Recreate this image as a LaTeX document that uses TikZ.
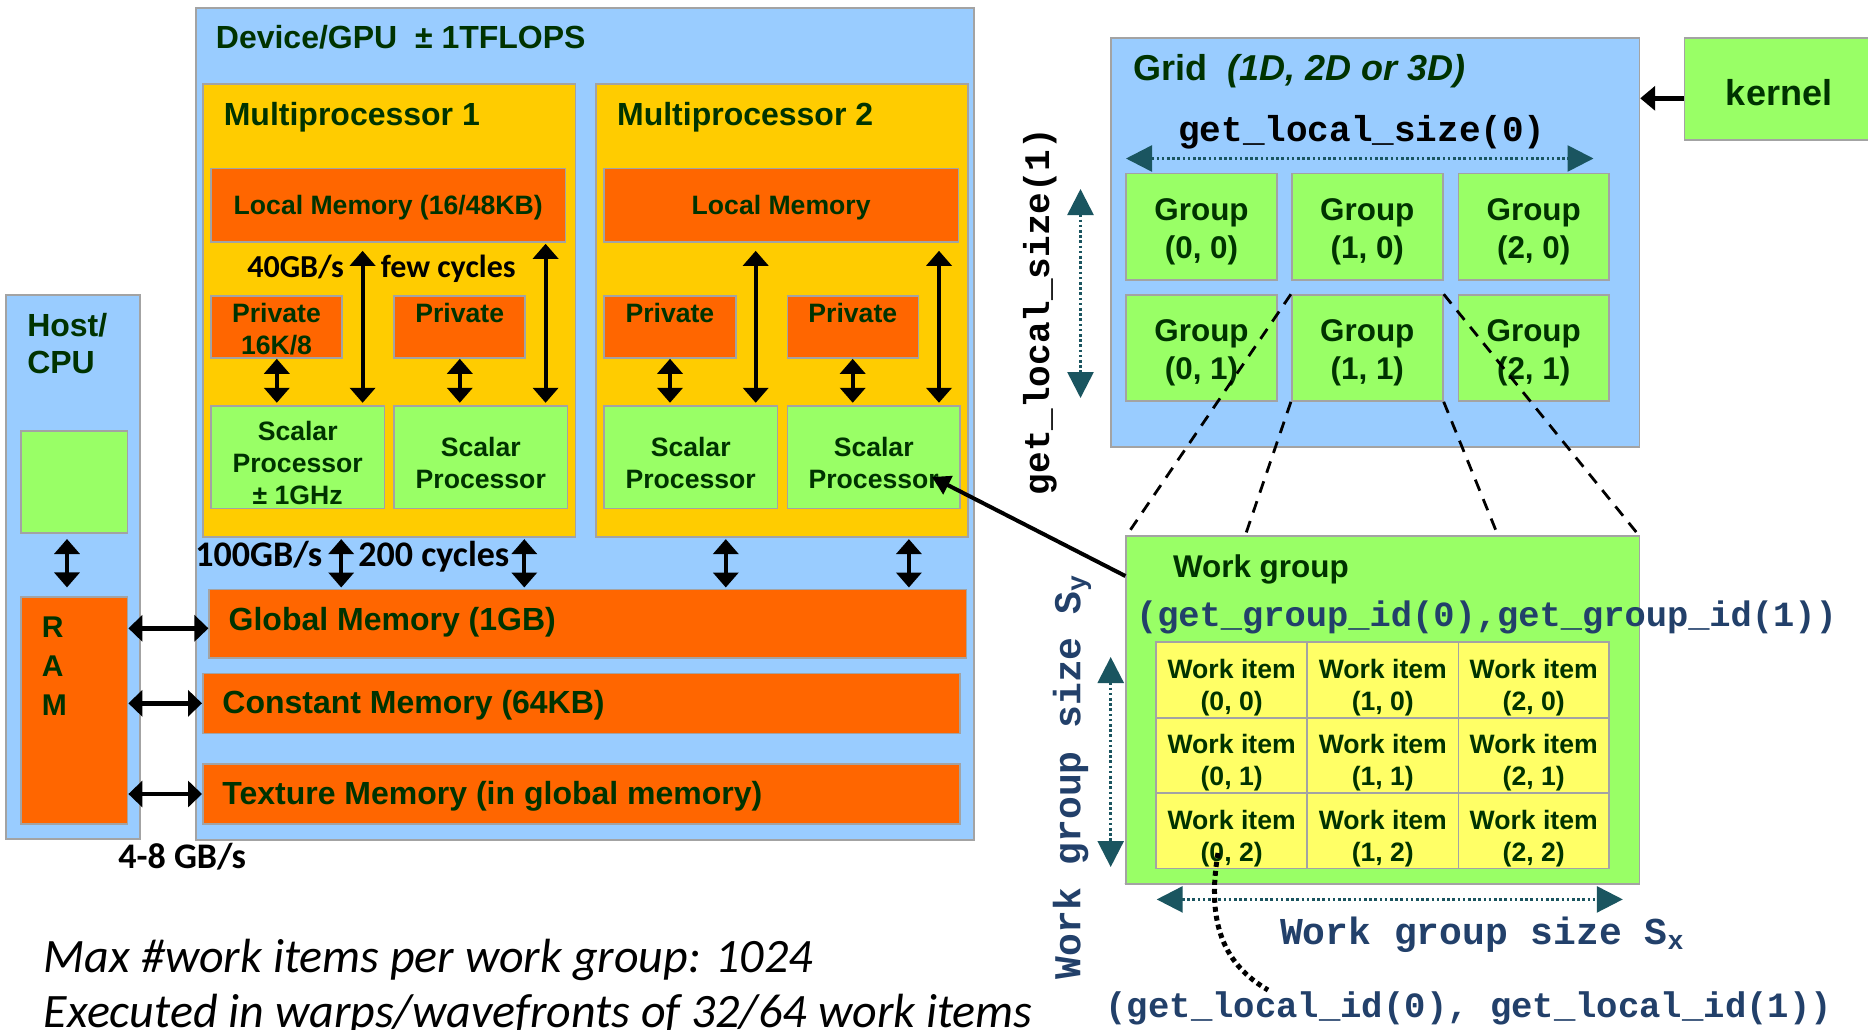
\documentclass[tikz,border=0pt]{standalone}
\usepackage{fontspec}
\setmainfont{Liberation Sans}
\setmonofont{Liberation Mono}
\newfontfamily\calib{Carlito}
\usetikzlibrary{arrows.meta,fit,calc}

\definecolor{skyblue}{HTML}{99CCFF}
\definecolor{mpyellow}{HTML}{FFCC00}
\definecolor{memorange}{HTML}{FF6600}
\definecolor{pgreen}{HTML}{99FF66}
\definecolor{wiyellow}{HTML}{FFFF66}
\definecolor{edgegray}{HTML}{A3A3A3}
\definecolor{txtgreen}{HTML}{003300}
\definecolor{labelnavy}{HTML}{22406A}
\definecolor{arrowteal}{HTML}{1A5560}

\newcommand\setfs[2]{\fontsize{#1}{#2}\selectfont}

\tikzset{
  blk/.style={draw=edgegray, line width=0.8pt, inner sep=0pt, text=txtgreen, font=\bfseries},
  bluebox/.style={blk, fill=skyblue},
  mpbox/.style={blk, fill=mpyellow},
  membox/.style={blk, fill=memorange},
  procbox/.style={blk, fill=pgreen},
  itembox/.style={blk, fill=wiyellow},
  headtxt/.style={anchor=base west, inner sep=0pt, text=txtgreen, font=\bfseries\setfs{16}{19}},
  boxtxt/.style={inner sep=0pt, text=txtgreen, font=\bfseries\setfs{13.3}{16}},
  grouptxt/.style={inner sep=0pt, text=txtgreen, align=center, font=\bfseries\setfs{15.7}{19}},
  ratetxt/.style={anchor=base west, inner sep=0pt, font=\calib\bfseries\setfs{16}{19}},
  bigrate/.style={ratetxt, font=\calib\bfseries\setfs{18}{21}},
  codetxt/.style={inner sep=0pt, font=\ttfamily\bfseries\setfs{18}{21}},
  navytxt/.style={codetxt, text=labelnavy},
  dbl/.style={line width=2pt, {Triangle[length=7.5pt,width=12.5pt]}-{Triangle[length=7.5pt,width=12.5pt]}},
  dblh/.style={line width=2.2pt, {Triangle[length=7pt,width=13pt]}-{Triangle[length=7pt,width=13pt]}},
  tealdots/.style={arrowteal, line width=1.3pt, dash pattern=on 1.3pt off 1.3pt,
    {Triangle[length=13pt,width=13pt]}-{Triangle[length=13pt,width=13pt]}},
  zoomline/.style={line width=1.4pt, dash pattern=on 6pt off 4.5pt},
}

\begin{document}
\begin{tikzpicture}[x=0.5pt,y=-0.5pt]
\useasboundingbox (0,0) rectangle (1868,1029);
\clip (0,0) rectangle (1868,1029);
\fill[white] (0,0) rectangle (1868,1029);

% ---------------- host side ----------------
\node[bluebox, fit={(6,295) (140,839)}] (host) {};
\node[headtxt] (hostlbla) at (26.9,336.3) {Host/};
\node[headtxt] (hostlblb) at (26.9,373.6) {CPU};
\node[procbox, fit={(21,431) (127.6,533)}] (hostcore) {};
\node[membox, fit={(21,597) (127.6,824)}] (ram) {};
\node[headtxt, font=\bfseries\setfs{15}{18}] (ramr) at (41.5,637.5) {R};
\node[headtxt, font=\bfseries\setfs{15}{18}] (rama) at (41.5,676) {A};
\node[headtxt, font=\bfseries\setfs{15}{18}] (ramm) at (41.5,715) {M};
\draw[dbl, shorten <=2.6pt, shorten >=4.4pt] (67,0 |- hostcore.south) -- (67,0 |- ram.north);

% ---------------- device ----------------
\node[bluebox, fit={(196,8) (974,840)}] (device) {};
\node[headtxt] (devlbl) at (215.5,48.5) {Device/GPU~~± 1TFLOPS};

\node[mpbox, fit={(203,84) (575.3,536.7)}] (mp1) {};
\node[mpbox, fit={(596,84) (968,536.7)}] (mp2) {};
\node[headtxt] (mp1lbl) at (223.4,125) {Multiprocessor 1};
\node[headtxt] (mp2lbl) at (616.7,125) {Multiprocessor 2};

\node[membox, fit={(211,168.6) (565.4,242)}] (lm1) {};
\node[membox, fit={(604,168.6) (958.3,242)}] (lm2) {};
\node[boxtxt] (lm1lbl) at ($(lm1.center)+(0,2.5)$) {Local Memory (16/48KB)};
\node[boxtxt] (lm2lbl) at ($(lm2.center)+(0,2.5)$) {Local Memory};

\node[membox, fit={(211,296) (342,358)}] (pv1) {};
\node[membox, fit={(394.2,296) (525.1,358)}] (pv2) {};
\node[membox, fit={(604,296) (735.7,358)}] (pv3) {};
\node[membox, fit={(787.3,296) (918.3,358)}] (pv4) {};
\node[boxtxt, align=center] (pv1lbl) at (276.5,329.5) {Private\\16K/8};
\node[boxtxt] (pv2lbl) at (459.7,313.4) {Private};
\node[boxtxt] (pv3lbl) at (669.9,313.4) {Private};
\node[boxtxt] (pv4lbl) at (852.8,313.4) {Private};

\node[procbox, fit={(211,406) (384.3,508.5)}] (sp1) {};
\node[procbox, fit={(394.2,406) (567.4,508.5)}] (sp2) {};
\node[procbox, fit={(604,406) (777.3,508.5)}] (sp3) {};
\node[procbox, fit={(787.3,406) (960,508.5)}] (sp4) {};
\node[boxtxt, align=center] (sp1lbl) at (297.7,463.3) {Scalar\\Processor\\± 1GHz};
\node[boxtxt, align=center] (sp2lbl) at (480.8,463.3) {Scalar\\Processor};
\node[boxtxt, align=center] (sp3lbl) at (690.7,463.3) {Scalar\\Processor};
\node[boxtxt, align=center] (sp4lbl) at (873.7,463.3) {Scalar\\Processor};

\node[membox, fit={(209.2,589.3) (966.3,657.7)}] (gmem) {};
\node[membox, fit={(202.8,673.3) (959.9,733.3)}] (cmem) {};
\node[membox, fit={(202.8,764) (959.9,824)}] (tmem) {};
\node[headtxt] (gmemlbl) at (228.3,630.5) {Global Memory (1GB)};
\node[headtxt] (cmemlbl) at (222,713.5) {Constant Memory (64KB)};
\node[headtxt] (tmemlbl) at (222,804) {Texture Memory (in global memory)};

% local memory <-> scalar processors
\draw[dbl, shorten <=4pt, shorten >=1.2pt] (362.6,0 |- lm1.south) -- (362.6,0 |- sp1.north);
\draw[dbl, shorten <=0.5pt, shorten >=1.2pt] (545.6,0 |- lm1.south) -- (545.6,0 |- sp2.north);
\draw[dbl, shorten <=4pt, shorten >=1.2pt] (755.7,0 |- lm2.south) -- (755.7,0 |- sp3.north);
\draw[dbl, shorten <=4pt, shorten >=1.2pt] (939,0 |- lm2.south) -- (939,0 |- sp4.north);
% private <-> scalar processors
\draw[dbl, shorten >=1.2pt] (276.8,0 |- pv1.south) -- (276.8,0 |- sp1.north);
\draw[dbl, shorten >=1.2pt] (459.8,0 |- pv2.south) -- (459.8,0 |- sp2.north);
\draw[dbl, shorten >=1.2pt] (670,0 |- pv3.south) -- (670,0 |- sp3.north);
\draw[dbl, shorten >=1.2pt] (852.7,0 |- pv4.south) -- (852.7,0 |- sp4.north);
% multiprocessors <-> global memory
\draw[dbl, shorten <=0.8pt, shorten >=0.5pt] (341.2,0 |- mp1.south) -- (341.2,0 |- gmem.north);
\draw[dbl, shorten <=0.8pt, shorten >=0.5pt] (524.3,0 |- mp1.south) -- (524.3,0 |- gmem.north);
\draw[dbl, shorten <=0.8pt, shorten >=0.5pt] (725.8,0 |- mp2.south) -- (725.8,0 |- gmem.north);
\draw[dbl, shorten <=0.8pt, shorten >=0.5pt] (908.9,0 |- mp2.south) -- (908.9,0 |- gmem.north);
% host RAM <-> device memories
\draw[dblh] (ram.east |- 0,628.3) -- (gmem.west |- 0,628.3);
\draw[dblh] (ram.east |- 0,703.3) -- (cmem.west |- 0,703.3);
\draw[dblh] (ram.east |- 0,794) -- (tmem.west |- 0,794);

\node[ratetxt] (bw1) at (247,277.7) {40GB/s};
\node[ratetxt] (lat1) at (380.4,277.7) {few cycles};
\node[bigrate] (bw2) at (195,566.7) {100GB/s};
\node[bigrate] (lat2) at (358,566.7) {200 cycles};
\node[bigrate] (bw3) at (118,868.3) {4-8 GB/s};

\node[anchor=base west, inner sep=0pt, font=\calib\itshape\setfs{24}{28}] (note1) at (43.4,972) {Max \#work items per work group: 1024};
\node[anchor=base west, inner sep=0pt, font=\calib\itshape\setfs{24}{28}] (note2) at (43.4,1027) {Executed in warps/wavefronts of 32/64 work items};

% ---------------- grid of work groups ----------------
\node[bluebox, fit={(1110.7,37.7) (1639.4,446.7)}] (grid) {};
\node[anchor=base west, inner sep=0pt, text=txtgreen, font=\bfseries\setfs{18}{21}] (gridlbl) at (1132.9,80) {Grid~~\textit{(1D, 2D or 3D)}};
\node[codetxt, anchor=base, text=black] (lsz0) at (1362,141.5) {get\_local\_size(0)};
\node[codetxt, rotate=90, text=black] (lsz1) at (1040,311.5) {get\_local\_size(1)};

\foreach \c/\xa/\xb in {0/1126.2/1276.8, 1/1291.7/1442.9, 2/1458.4/1609}
  \foreach \r/\ya/\yb in {0/173.3/280, 1/295/401}
  {
    \node[procbox, fit={(\xa,\ya) (\xb,\yb)}] (grp-\c-\r) {};
    \node[grouptxt] (grpl-\c-\r) at ($(grp-\c-\r.center)+(0,5)$) {Group\\(\c, \r)};
  }

\coordinate (lsx0) at (1126,158.5);
\coordinate (lsx1) at (1593.5,158.5);
\draw[tealdots] (lsx0) -- (lsx1);
\coordinate (lsy0) at (1080.5,189);
\coordinate (lsy1) at (1080.5,398);
\draw[tealdots] (lsy0) -- (lsy1);

\node[procbox, fit={(1684.3,37.7) (1890,140)}] (kernel) {};
\node[anchor=base, inner sep=0pt, text=txtgreen, font=\bfseries\setfs{18}{21}] (kernellbl) at (1779,105) {kernel};
\draw[line width=2.5pt, -{Triangle[length=7.5pt,width=12pt]}] (kernel.west |- 0,98.3) -- (grid.east |- 0,98.3);

% ---------------- one work group, enlarged ----------------
\coordinate (wgnw) at (1126.2,536);
\coordinate (wgne) at (1639.4,536);
\coordinate (wgsw) at (1126.2,884);
\coordinate (wgse) at (1639.4,884);
\draw[zoomline] (grp-1-1.north west) -- (wgnw);
\draw[zoomline] (grp-1-1.south west) -- (wgsw);
\draw[zoomline] (grp-1-1.north east) -- (wgne);
\draw[zoomline] (grp-1-1.south east) -- (wgse);

\node[procbox, fit={(wgnw) (wgse)}] (wg) {};
\node[anchor=base west, inner sep=0pt, text=txtgreen, font=\bfseries\setfs{15.7}{19}] (wglbl) at (1172.7,577) {Work group};
\node[navytxt, anchor=base west, font=\ttfamily\bfseries\setfs{17.7}{21}] (gid) at (1135.6,626.5) {(get\_group\_id(0),get\_group\_id(1))};

\foreach \c/\xa/\xb in {0/1156.1/1307.2, 1/1307.2/1458.4, 2/1458.4/1609}
  \foreach \r/\ya/\yb in {0/642.2/718, 1/718/793.1, 2/793.1/868.6}
  {
    \node[itembox, fit={(\xa,\ya) (\xb,\yb)}] (wi-\c-\r) {};
    \node[boxtxt, align=center] (wil-\c-\r) at ($(wi-\c-\r.center)+(0,7.5)$) {Work item\\(\c, \r)};
  }

\coordinate (wsy0) at (1110.7,657);
\coordinate (wsy1) at (1110.7,867);
\draw[tealdots] (wsy0) -- (wsy1);
\coordinate (wsx0) at (1156.7,899.4);
\coordinate (wsx1) at (1622.8,899.4);
\draw[tealdots] (wsx0) -- (wsx1);

\node[navytxt, anchor=base west, font=\ttfamily\bfseries\setfs{19}{22}] (wgsx) at (1279.6,944) {Work group size S\textsubscript{x}};
\node[navytxt, rotate=90, font=\ttfamily\bfseries\setfs{19}{22}] (wgsy) at (1072,777) {Work group size S\textsubscript{y}};
\node[navytxt, anchor=base west, font=\ttfamily\bfseries\setfs{17.8}{21}] (lid) at (1105.2,1017) {(get\_local\_id(0), get\_local\_id(1))};

% local id pointer
\coordinate (wipick) at (1218,853);
\coordinate (lidtail) at (1268,990);
\draw[line width=2.5pt, dash pattern=on 2.5pt off 2pt] (wipick) .. controls (1206,925) and (1225,965) .. (lidtail);

% work group runs on a scalar processor
\coordinate (sptip) at (932,477);
\draw[line width=2pt, -{Triangle[length=9pt,width=10pt]}] (wg.west |- 0,576) -- (sptip);
\end{tikzpicture}
\end{document}
